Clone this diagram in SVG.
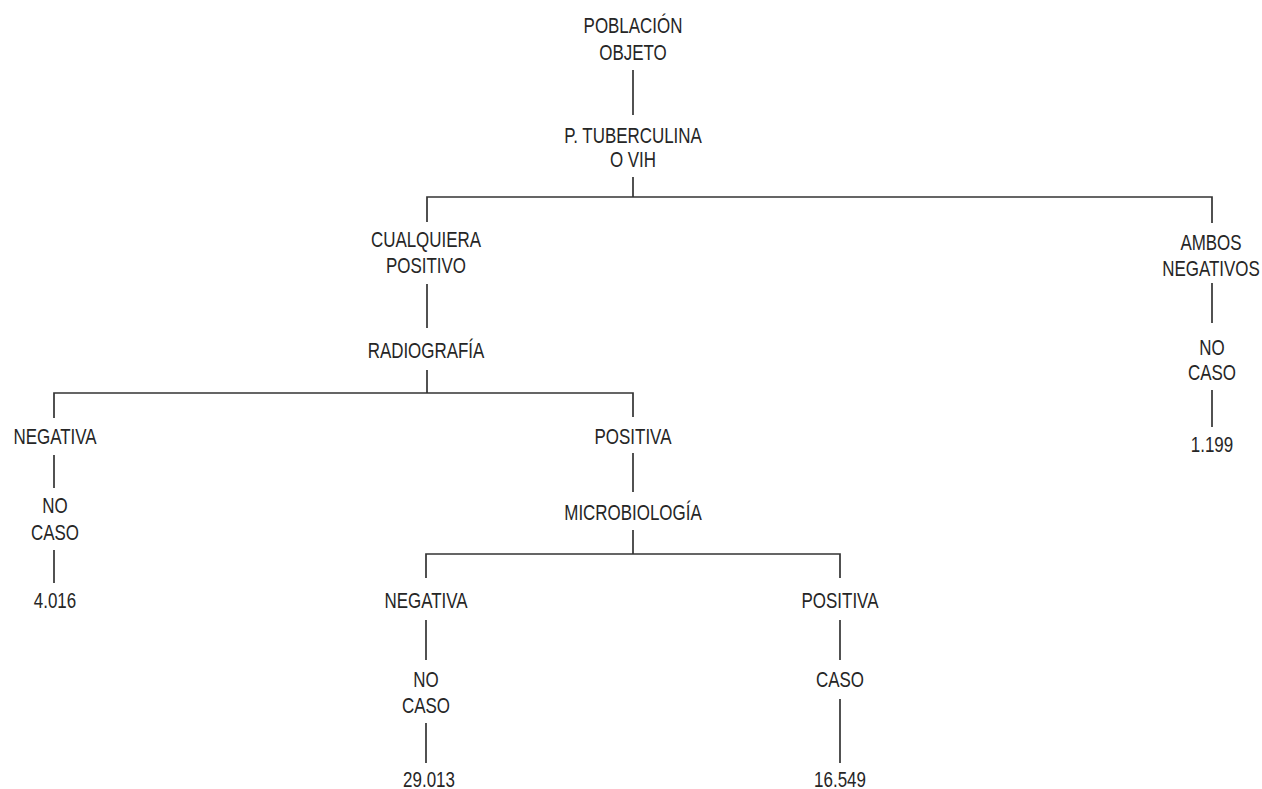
<svg xmlns="http://www.w3.org/2000/svg" width="1262" height="789" viewBox="0 0 1262 789">
<style>
.t{font-family:"Liberation Sans Narrow","Liberation Sans",Arial,sans-serif;font-size:22px;fill:#262626;text-anchor:middle}
.c line,.c polyline{stroke:#333;stroke-width:1.7;fill:none}
</style>
<rect width="1262" height="789" fill="#fff"/>
<g class="c" id="connectors">
<line x1="633" y1="70" x2="633" y2="115"/>
<line x1="633" y1="177" x2="633" y2="197"/>
<polyline points="427,222 427,197 1212,197 1212,223"/>
<line x1="427" y1="284" x2="427" y2="328"/>
<line x1="1212" y1="283" x2="1212" y2="323"/>
<line x1="1212" y1="390" x2="1212" y2="427"/>
<line x1="427" y1="370" x2="427" y2="393"/>
<polyline points="54,418 54,393 633,393 633,417"/>
<line x1="54" y1="455" x2="54" y2="488"/>
<line x1="54" y1="550" x2="54" y2="583"/>
<line x1="633" y1="453" x2="633" y2="492"/>
<line x1="633" y1="530" x2="633" y2="554"/>
<polyline points="426,578 426,554 840,554 840,578"/>
<line x1="426" y1="620" x2="426" y2="660"/>
<line x1="426" y1="723" x2="426" y2="763"/>
<line x1="840" y1="620" x2="840" y2="660"/>
<line x1="840" y1="699" x2="840" y2="763"/>
</g>
<g id="poblacion"><text class="t" transform="translate(633 33) scale(0.77 1)">POBLACIÓN</text><text class="t" transform="translate(633 60) scale(0.77 1)">OBJETO</text></g>
<g id="tuberculina"><text class="t" transform="translate(633 143) scale(0.77 1)">P. TUBERCULINA</text><text class="t" transform="translate(633 167) scale(0.77 1)">O VIH</text></g>
<g id="cualquiera"><text class="t" transform="translate(426 247) scale(0.77 1)">CUALQUIERA</text><text class="t" transform="translate(426 273) scale(0.77 1)">POSITIVO</text></g>
<g id="ambos"><text class="t" transform="translate(1211 250) scale(0.77 1)">AMBOS</text><text class="t" transform="translate(1211 276) scale(0.77 1)">NEGATIVOS</text></g>
<g id="nocaso-ambos"><text class="t" transform="translate(1212 355) scale(0.77 1)">NO</text><text class="t" transform="translate(1212 380) scale(0.77 1)">CASO</text></g>
<g id="n1199"><text class="t" transform="translate(1212 452) scale(0.77 1)">1.199</text></g>
<g id="radiografia"><text class="t" transform="translate(426 358) scale(0.77 1)">RADIOGRAFÍA</text></g>
<g id="rx-negativa"><text class="t" transform="translate(55 444) scale(0.77 1)">NEGATIVA</text></g>
<g id="nocaso-rx"><text class="t" transform="translate(55 513) scale(0.77 1)">NO</text><text class="t" transform="translate(55 540) scale(0.77 1)">CASO</text></g>
<g id="n4016"><text class="t" transform="translate(55 608) scale(0.77 1)">4.016</text></g>
<g id="rx-positiva"><text class="t" transform="translate(633 444) scale(0.77 1)">POSITIVA</text></g>
<g id="microbiologia"><text class="t" transform="translate(633 520) scale(0.77 1)">MICROBIOLOGÍA</text></g>
<g id="mb-negativa"><text class="t" transform="translate(426 608) scale(0.77 1)">NEGATIVA</text></g>
<g id="nocaso-mb"><text class="t" transform="translate(426 687) scale(0.77 1)">NO</text><text class="t" transform="translate(426 713) scale(0.77 1)">CASO</text></g>
<g id="n29013"><text class="t" transform="translate(429 787) scale(0.77 1)">29.013</text></g>
<g id="mb-positiva"><text class="t" transform="translate(840 608) scale(0.77 1)">POSITIVA</text></g>
<g id="caso"><text class="t" transform="translate(840 687) scale(0.77 1)">CASO</text></g>
<g id="n16549"><text class="t" transform="translate(840 787) scale(0.77 1)">16.549</text></g>
</svg>
